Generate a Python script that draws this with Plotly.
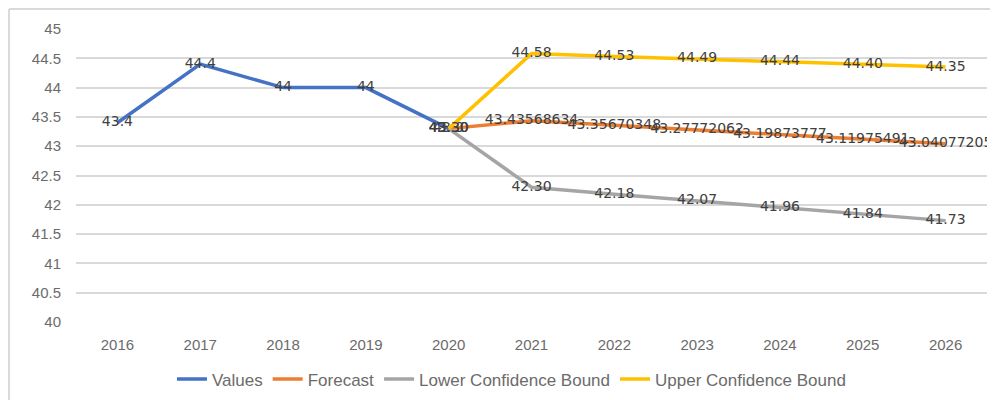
import plotly.graph_objects as go

years = ["2016", "2017", "2018", "2019", "2020", "2021", "2022", "2023", "2024", "2025", "2026"]

values_years = years[:5]
values = [43.4, 44.4, 44.0, 44.0, 43.3]
values_text = ["43.4", "44.4", "44", "44", "43.3"]

fc_years = years[4:]
forecast = [43.30, 43.43568634, 43.35670348, 43.27772062, 43.19873777, 43.11975491, 43.04077205]
forecast_text = ["43.30", "43.43568634", "43.35670348", "43.27772062", "43.19873777", "43.11975491", "43.04077205"]

lower = [43.30, 42.30, 42.18, 42.07, 41.96, 41.84, 41.73]
upper = [43.30, 44.58, 44.53, 44.49, 44.44, 44.40, 44.35]

y_ticks = [40, 40.5, 41, 41.5, 42, 42.5, 43, 43.5, 44, 44.5, 45]
y_ticktext = ["40", "40.5", "41", "41.5", "42", "42.5", "43", "43.5", "44", "44.5", "45"]

FONT = "Liberation Sans, Arial"
LABEL_FONT = dict(family="DejaVu Sans", size=14, color="#404040")

fig = go.Figure()

series = [
    ("Values", values_years, values, values_text, "#4472C4"),
    ("Forecast", fc_years, forecast, forecast_text, "#ED7D31"),
    ("Lower Confidence Bound", fc_years, lower, [f"{v:.2f}" for v in lower], "#A5A5A5"),
    ("Upper Confidence Bound", fc_years, upper, [f"{v:.2f}" for v in upper], "#FFC000"),
]

for name, xs, ys, txt, color in series:
    fig.add_trace(go.Scatter(
        x=xs, y=ys, name=name, mode="lines+text",
        text=txt, textposition="middle center", textfont=LABEL_FONT,
        line=dict(color=color, width=3.5),
    ))

# chart-area border (top and left only are visible)
fig.add_shape(type="line", xref="paper", yref="paper",
              x0=-0.0735, x1=1.02, y0=1.068, y1=1.068,
              line=dict(color="#D9D9D9", width=2))
fig.add_shape(type="line", xref="paper", yref="paper",
              x0=-0.0735, x1=-0.0735, y0=1.068, y1=-0.3,
              line=dict(color="#D9D9D9", width=2))

# page adds an 8px body margin, so the figure is sized to fit the window
fig.update_layout(
    width=990, height=392,
    margin=dict(l=68, r=11, t=21, b=78, autoexpand=False),
    paper_bgcolor="white", plot_bgcolor="white",
    font=dict(family=FONT, size=15, color="#6b6b6b"),
    showlegend=True,
    legend=dict(orientation="h", x=0.478, xanchor="center", y=-0.135, yanchor="top",
                font=dict(family=FONT, size=17, color="#6b6b6b"),
                itemwidth=30, traceorder="normal"),
    xaxis=dict(type="category", categoryorder="array", categoryarray=years,
               range=[-0.5, 10.5], showgrid=False, zeroline=False,
               showline=False, ticks="", ticklabelstandoff=12, tickfont=dict(size=15)),
    yaxis=dict(range=[40, 45], tickvals=y_ticks, ticktext=y_ticktext,
               showgrid=True, gridcolor="#D9D9D9",
               gridwidth=2, zeroline=False, showline=False, ticks="",
               ticklabelstandoff=14, tickfont=dict(size=15)),
)

fig.write_html("out.html")
